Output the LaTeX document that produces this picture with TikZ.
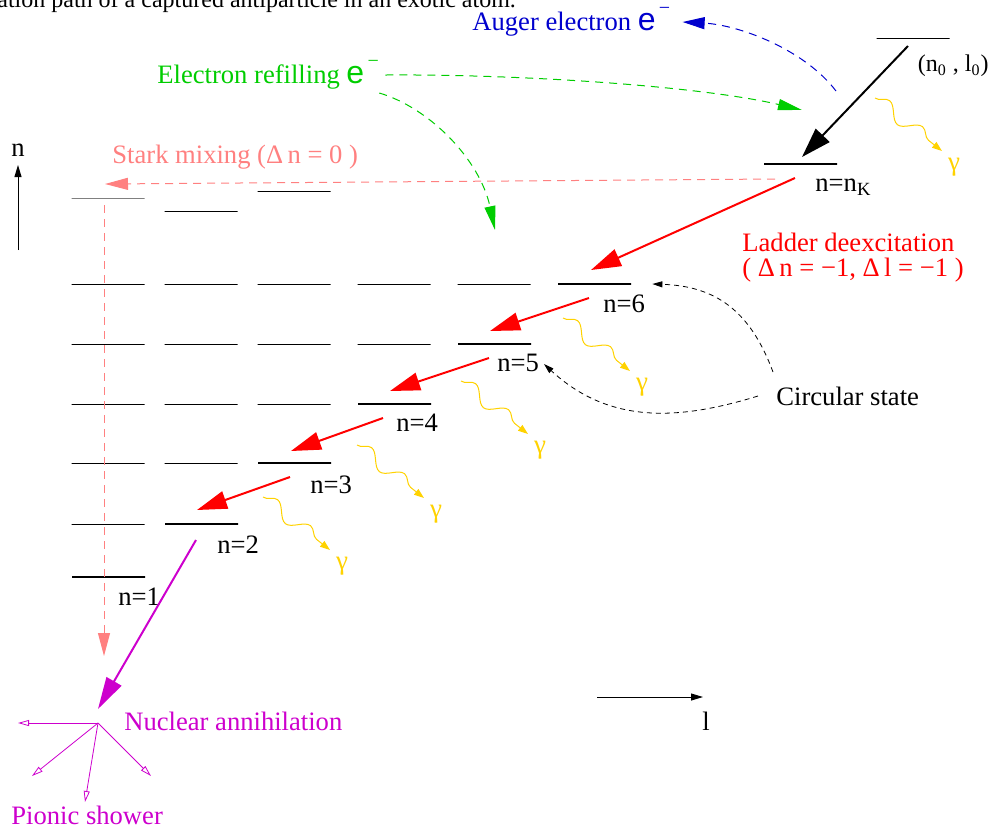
\documentclass[tikz,border=0pt]{standalone}
\usepackage{fontspec}
\setmainfont{Liberation Serif}
\setsansfont{Liberation Sans}
\usetikzlibrary{positioning,arrows.meta,decorations.pathmorphing}
\definecolor{LadderRed}{RGB}{255,0,0}
\definecolor{StarkPink}{RGB}{255,128,128}
\definecolor{RefillGreen}{RGB}{0,205,0}
\definecolor{AugerBlue}{RGB}{0,0,205}
\definecolor{GammaGold}{RGB}{255,210,0}
\definecolor{AnnihMagenta}{RGB}{205,0,205}
\newcommand{\eminus}{{\sffamily\fontsize{16}{16}\selectfont e}\raisebox{1.3ex}{\fontsize{10}{10}\selectfont\,−}}
\tikzset{
  lvl/.style={draw,anchor=west,minimum width=36.5pt,minimum height=0pt,inner sep=0pt,line width=0.5pt},
  circlvl/.style={lvl,line width=1.2pt},
  lbl/.style={anchor=west,inner sep=0pt,font=\fontsize{13.3}{15}\selectfont},
  ladder/.style={draw=LadderRed,line width=1pt,-{Triangle[length=15pt,width=9pt]}},
  capture/.style={draw=black,line width=1pt,-{Triangle[length=15pt,width=9.5pt]}},
  annih/.style={draw=AnnihMagenta,line width=1pt,-{Triangle[length=16pt,width=8.5pt]}},
  stark/.style={draw=StarkPink,line width=0.5pt,dash pattern=on 4pt off 3pt,-{Triangle[length=11.5pt,width=6pt]}},
  refill/.style={draw=RefillGreen,line width=0.5pt,dash pattern=on 4pt off 3pt,-{Triangle[length=12pt,width=5.5pt]}},
  auger/.style={draw=AugerBlue,line width=0.5pt,dash pattern=on 4pt off 3pt,-{Triangle[length=11pt,width=6pt]}},
  pointer/.style={draw=black,line width=0.4pt,dash pattern=on 2.5pt off 2pt,-{Triangle[length=5pt,width=3pt]}},
  photon/.style={draw=GammaGold,line width=0.5pt,decorate,decoration={snake,amplitude=3.5pt,segment length=21pt,post length=5pt},-{Triangle[length=5pt,width=3.5pt]}},
  gam/.style={text=GammaGold,inner sep=0pt,font=\fontsize{13.5}{13.5}\selectfont},
  axis/.style={draw=black,line width=0.5pt,-{Triangle[length=6pt,width=3.5pt]}},
  shower/.style={draw=AnnihMagenta,line width=0.4pt,-{Triangle[open,length=5.5pt,width=3pt]}},
}
\begin{document}
\begin{tikzpicture}[x=0.5pt,y=-0.5pt]
  \useasboundingbox (0,0) rectangle (993,827);
  \node[lbl,anchor=base west,font=\fontsize{12}{14}\selectfont] (title) at (-3,7) {ation path of a captured antiparticle in an exotic atom.};
  % levels of the non-circular states
  \foreach \x in {71,164,257,357,457} \node[lvl] (a\x) at (\x,284) {};
  \foreach \x in {71,164,257,357} \node[lvl] (b\x) at (\x,344) {};
  \foreach \x in {71,164,257} \node[lvl] (c\x) at (\x,404) {};
  \foreach \x in {71,164} \node[lvl] (d\x) at (\x,463) {};
  \node[lvl] (e71) at (71,524) {};
  \node[lvl,draw=gray] (T0) at (71,198) {};
  \node[lvl] (T1) at (164,211) {};
  \node[lvl] (T2) at (257,191) {};
  % circular states
  \node[circlvl] (L1) at (71,577) {};
  \node[circlvl] (L2) at (164,524) {};
  \node[circlvl] (L3) at (257,463) {};
  \node[circlvl] (L4) at (357,404) {};
  \node[circlvl] (L5) at (457,344) {};
  \node[circlvl] (L6) at (557,284) {};
  \node[circlvl] (LK) at (763,164) {};
  \node[lvl] (L0) at (876,38) {};
  \node[lbl] (n1) at (118,597) {n=1};
  \node[lbl] (n2) at (217,545) {n=2};
  \node[lbl] (n3) at (310,485) {n=3};
  \node[lbl] (n4) at (396,423) {n=4};
  \node[lbl] (n5) at (497,363) {n=5};
  \node[lbl] (n6) at (603,304) {n=6};
  \node[lbl] (nK) at (815,187) {n=n\textsubscript{K}};
  \node[lbl,anchor=east,font=\fontsize{12}{14}\selectfont] (n0) at (989,66) {(n\textsubscript{0} , l\textsubscript{0})};
  % transitions
  \draw[capture] ([shift={(32,8)}]L0.west) -- ([shift={(39,-7)}]LK.west);
  \draw[ladder] ([shift={(32,14)}]LK.west) -- ([shift={(34,-14)}]L6.west);
  \draw[ladder] ([shift={(32,14)}]L6.west) -- ([shift={(33,-13)}]L5.west);
  \draw[ladder] ([shift={(32,14)}]L5.west) -- ([shift={(33,-13)}]L4.west);
  \draw[ladder] ([shift={(26,14)}]L4.west) -- ([shift={(34,-12)}]L3.west);
  \draw[ladder] ([shift={(33,14)}]L3.west) -- ([shift={(33,-14)}]L2.west);
  \coordinate (ann) at (98,709);
  \coordinate (sh) at (98,723);
  \draw[annih] ([shift={(32,16)}]L2.west) -- (ann);
  \foreach \sx/\sy [count=\i] in {875/98,563/318,461/381,357/445,263/497}
    \draw[photon] (\sx,\sy) -- ++(67,53) node[gam,xshift=6pt,yshift=-8pt] (g\i) {γ};
  % Stark mixing
  \node[lbl,text=StarkPink] (stark) at (112,157) {Stark mixing (Δ\,n = 0 )};
  \draw[stark] ([shift={(12,15)}]LK.west) -- (105,184);
  \draw[stark] ([shift={(33,7)}]T0.west) -- ([shift={(33,79)}]L1.west);
  % electrons
  \node[lbl,text=AugerBlue] (auger) at (472,22) {Auger electron \eminus};
  \node[lbl,text=RefillGreen] (refill) at (157,75) {Electron refilling \eminus};
  \draw[auger] (836,91) .. controls (805,50) and (740,25) .. ([xshift=6pt]auger.east);
  \draw[refill] ([xshift=3pt]refill.east) .. controls (520,74) and (700,86) .. (802,110);
  \draw[refill] ([shift={(0,18)}]refill.east) .. controls (430,108) and (480,160) .. (495,230);
  % labels
  \node[lbl,text=LadderRed] (ladder1) at (742,242) {Ladder deexcitation};
  \node[lbl,text=LadderRed] (ladder2) at (742,270) {( Δ\,n = −1, Δ\,l = −1 )};
  \node[lbl] (circ) at (776,396) {Circular state};
  \draw[pointer] (773,372) .. controls (750,310) and (715,286) .. ([shift={(20,0)}]L6.east);
  \draw[pointer] ([xshift=-9pt]circ.west) .. controls (680,420) and (610,425) .. (544,364);
  % annihilation
  \node[lbl,text=AnnihMagenta] (nucl) at (124,721) {Nuclear annihilation};
  \node[lbl,text=AnnihMagenta] (pion) at (11,815) {Pionic shower};
  \draw[shower] (sh) -- (18,723);
  \draw[shower] (sh) -- (32,776);
  \draw[shower] (sh) -- (85,802);
  \draw[shower] (sh) -- (151,776);
  % axes
  \coordinate (nb) at (18,250);
  \coordinate (nt) at (18,165);
  \draw[axis] (nb) -- (nt) node[lbl,anchor=south,yshift=4pt] (nlab) {n};
  \coordinate (lb) at (597,697);
  \coordinate (lt) at (703,697);
  \draw[axis] (lb) -- (lt);
  \node[lbl,anchor=center] (llab) at (706,721) {l};
\end{tikzpicture}
\end{document}
